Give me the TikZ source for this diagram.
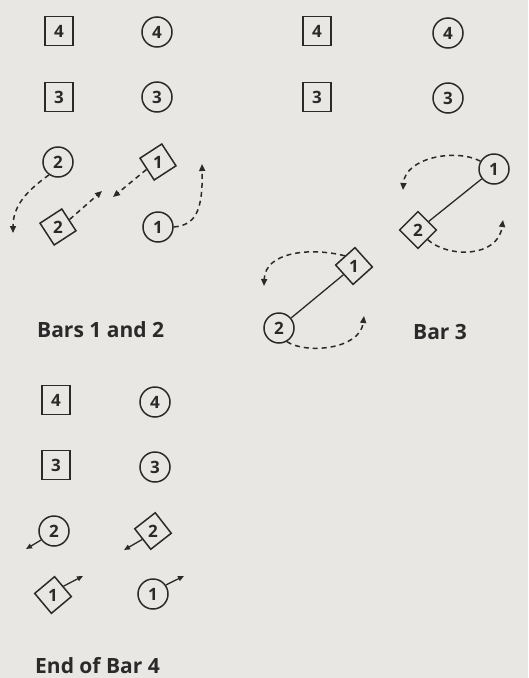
\documentclass[tikz,border=0pt]{standalone}
\usepackage{fontspec}
\setmainfont{Open Sans}
\usetikzlibrary{arrows.meta}
\definecolor{paper}{HTML}{E9E7E3}
\definecolor{ink}{HTML}{2A2A2A}
\tikzset{
  sqnode/.style={draw=ink, line width=1.6pt, rectangle, minimum width=28pt, minimum height=29pt, inner sep=0pt, font=\fontsize{17}{17}\selectfont\bfseries, text=ink},
  cnode/.style={draw=ink, line width=1.5pt, circle, minimum size=30pt, inner sep=0pt, font=\fontsize{17}{17}\selectfont\bfseries, text=ink},
  dnode/.style={draw=ink, line width=1.5pt, rectangle, minimum size=26pt, inner sep=0pt, font=\fontsize{17}{17}\selectfont\bfseries, text=ink, rotate=#1},
  dashline/.style={draw=ink, line width=1.5pt, dash pattern=on 5pt off 4pt, -{Triangle[length=7pt,width=6pt]}},
  solidarrow/.style={draw=ink, line width=1.3pt, -{Triangle[length=6pt,width=5pt]}},
  link/.style={draw=ink, line width=1.3pt},
  caption/.style={anchor=base west, inner sep=0pt, font=\fontsize{21}{21}\selectfont\bfseries, text=ink}
}
\begin{document}
\begin{tikzpicture}[x=1pt, y=-1pt]
\fill[paper] (0,0) rectangle (528,678);
\useasboundingbox (0,0) rectangle (528,678);

% ---------- Panel 1: Bars 1 and 2 ----------
\node[sqnode] (a4s) at (59,31) {4};
\node[cnode]  (a4c) at (157,32) {4};
\node[sqnode] (a3s) at (59,97) {3};
\node[cnode]  (a3c) at (157,97) {3};
\node[cnode]  (a2c) at (58,162) {2};
\node[dnode=33] (a1d) at (158,162) {\rotatebox{-33}{1}};
\node[dnode=33] (a2d) at (58,227) {\rotatebox{-33}{2}};
\node[cnode]  (a1c) at (158,227) {1};

\coordinate (p1) at (13,233);
\coordinate (p2) at (113,197);
\coordinate (p3) at (102,191);
\coordinate (p4) at (202,164);

\draw[dashline] (a2c.235) .. controls (28,190) and (13,205) .. (p1);
\draw[dashline] (a1d.west) -- (p2);
\draw[dashline] (a2d.east) -- (p3);
\draw[dashline] (a1c.east) .. controls (195,225) and (203,212) .. (p4);

\node[caption] (lab1) at (37,337) {Bars 1 and 2};

% ---------- Panel 2: Bar 3 ----------
\node[sqnode] (b4s) at (317,31) {4};
\node[cnode]  (b4c) at (448,33) {4};
\node[sqnode] (b3s) at (317,97) {3};
\node[cnode]  (b3c) at (448,98) {3};
\node[cnode]  (b1c) at (494,169) {1};
\node[dnode=45] (b2d) at (418,230) {\rotatebox{-45}{2}};
\node[dnode=42] (b1d) at (354,266) {\rotatebox{-42}{1}};
\node[cnode]  (b2c) at (279,328) {2};

\draw[link] (b1c) -- (b2d);
\draw[link] (b1d) -- (b2c);

\coordinate (q1) at (403,190);
\coordinate (q2) at (503,220);
\coordinate (q3) at (264,286);
\coordinate (q4) at (364,316);

\draw[dashline] (b1c.150) .. controls (455,148) and (405,158) .. (q1);
\draw[dashline] (b2d.south) .. controls (448,258) and (498,258) .. (q2);
\draw[dashline] (b1d.north) .. controls (310,247) and (265,252) .. (q3);
\draw[dashline] (b2c.-60) .. controls (305,354) and (360,350) .. (q4);

\node[caption] (lab2) at (413,339) {Bar 3};

% ---------- Panel 3: End of Bar 4 ----------
\node[sqnode] (c4s) at (56,400) {4};
\node[cnode]  (c4c) at (155,402) {4};
\node[sqnode] (c3s) at (56,465) {3};
\node[cnode]  (c3c) at (155,467) {3};
\node[cnode]  (c2c) at (54,531) {2};
\node[dnode=38] (c2d) at (153,531) {\rotatebox{-38}{2}};
\node[dnode=40] (c1d) at (53,595) {\rotatebox{-40}{1}};
\node[cnode]  (c1c) at (153,594) {1};

\coordinate (r1) at (26,549);
\coordinate (r2) at (124,550);
\coordinate (r3) at (83,576);
\coordinate (r4) at (184,576);

\draw[solidarrow] (c2c.215) -- (r1);
\draw[solidarrow] (c2d.west) -- (r2);
\draw[solidarrow] (c1d.east) -- (r3);
\draw[solidarrow] (c1c.35) -- (r4);

\node[caption] (lab3) at (35,673) {End of Bar 4};
\end{tikzpicture}
\end{document}
